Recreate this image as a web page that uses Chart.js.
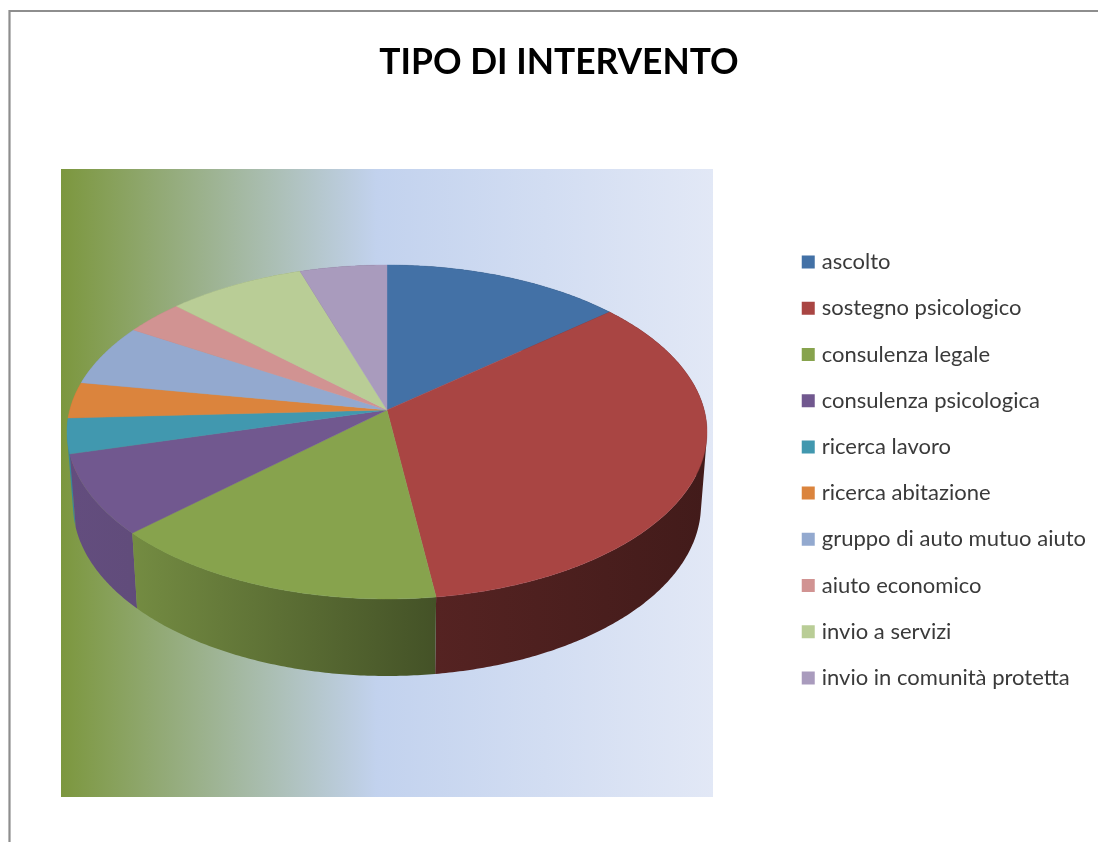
<!DOCTYPE html>
<html>
<head>
<meta charset="utf-8">
<style>html,body{margin:0;padding:0;background:#fff}canvas{display:block}</style>
<script src="https://cdn.jsdelivr.net/npm/chart.js@4/dist/chart.umd.min.js"></script>
</head>
<body>
<canvas id="c" width="1098" height="842"></canvas>
<script>
const categories = ["ascolto","sostegno psicologico","consulenza legale","consulenza psicologica","ricerca lavoro","ricerca abitazione","gruppo di auto mutuo aiuto","aiuto economico","invio a servizi","invio in comunità protetta"];
const values = [13.8,34.1,15.2,7.8,3.4,3.5,6.0,3.4,7.9,5.0];
const colors = ["#4371a6","#a94543","#87a34d","#71588f","#4198af","#db843d","#93a9cf","#d19392","#b9cd96","#a99bbd"];
const chartTitle = "TIPO DI INTERVENTO";

const TOP = {x:387, y:432, rx:320, ry:167};
const BOT = {x:387, y:505, rx:314, ry:171};
const TILT = -0.132;
const S = Math.sqrt(1 - TILT*TILT);
function proj(phi){
  const x = Math.sin(phi), y = -Math.cos(phi), d = 1 + TILT*y;
  return {u:x*S/d, v:(y+TILT)/d};
}
const onE = (e,p)=>[e.x+e.rx*p.u, e.y+e.ry*p.v];
function shade(hex,f){
  const n=parseInt(hex.slice(1),16);
  return `rgb(${Math.round((n>>16&255)*f)},${Math.round((n>>8&255)*f)},${Math.round((n&255)*f)})`;
}
const sample=(a,b)=>{const n=Math.max(2,Math.ceil((b-a)/0.01));const r=[];for(let i=0;i<=n;i++)r.push(proj(a+(b-a)*i/n));return r;};
function area(q){let s=0;q.forEach((p,i)=>{const n=q[(i+1)%q.length];s+=p[0]*n[1]-n[0]*p[1];});return s;}

const frame = {
  id:'frame',
  afterLayout(chart){
    chart.legend.top += 49; chart.legend.bottom += 49;
  },
  beforeDraw(chart){
    const c=chart.ctx;
    c.save();
    c.fillStyle='#fff';c.fillRect(0,0,chart.width,chart.height);
    c.strokeStyle='#8e8e8e';c.lineWidth=2.2;
    c.beginPath();c.moveTo(9.5,842);c.lineTo(9.5,11);c.lineTo(1098,11);c.stroke();
    const g=c.createLinearGradient(61,0,713,0);
    g.addColorStop(0,'#7c973e');g.addColorStop(0.485,'#c2d2ee');g.addColorStop(1,'#e2e8f6');
    c.fillStyle=g;c.fillRect(61,169,652,628);
    c.restore();
  },
  beforeDatasetsDraw(chart){
    const c=chart.ctx, arcs=chart.getDatasetMeta(0).data;
    const mid=e=>Math.abs((e.startAngle+e.endAngle)/2+Math.PI/2-Math.PI);
    c.save();
    const order=arcs.map((e,i)=>i).sort((p,q)=>mid(arcs[q])-mid(arcs[p]));
    for(const i of order){
      const pts=sample(arcs[i].startAngle+Math.PI/2,arcs[i].endAngle+Math.PI/2);
      const g=c.createLinearGradient(70,0,707,0);
      const col=colors[i];
      g.addColorStop(0,shade(col,0.88));g.addColorStop(0.096,shade(col,0.86));
      g.addColorStop(0.573,shade(col,0.50));g.addColorStop(1,shade(col,0.39));
      c.fillStyle=g;
      c.beginPath();
      for(let k=0;k<pts.length-1;k++){
        let q=[onE(TOP,pts[k]),onE(TOP,pts[k+1]),onE(BOT,pts[k+1]),onE(BOT,pts[k])];
        if(area(q)<0) q=q.reverse();
        c.moveTo(q[0][0],q[0][1]);q.slice(1).forEach(p=>c.lineTo(p[0],p[1]));c.closePath();
      }
      c.fill('nonzero');
    }
    const apex=[TOP.x,TOP.y+TOP.ry*TILT];
    arcs.forEach((e,i)=>{
      const pts=sample(e.startAngle+Math.PI/2,e.endAngle+Math.PI/2);
      c.fillStyle=colors[i];c.strokeStyle=colors[i];c.lineWidth=0.4;
      c.beginPath();c.moveTo(apex[0],apex[1]);
      pts.forEach(p=>{const q=onE(TOP,p);c.lineTo(q[0],q[1]);});
      c.closePath();c.fill();c.stroke();
    });
    c.restore();
    return false;
  }
};

new Chart(document.getElementById('c'),{
  type:'pie',
  data:{labels:categories,datasets:[{data:values,backgroundColor:colors,borderWidth:0}]},
  plugins:[frame],
  options:{
    responsive:false,animation:false,
    layout:{padding:{left:22,right:2,top:0,bottom:0}},
    plugins:{
      tooltip:{enabled:false},
      title:{display:true,text:chartTitle,color:'#000',font:{family:'Lato',size:35.4,weight:'bold'},padding:{top:41,bottom:20}},
      legend:{position:'right',align:'center',labels:{
        boxWidth:5,boxHeight:5,padding:24.2,color:'#3a3a3a',font:{family:'Lato',size:22},
        generateLabels(chart){
          return Chart.overrides.pie.plugins.legend.labels.generateLabels(chart)
            .map(l=>Object.assign(l,{lineWidth:8,strokeStyle:l.fillStyle}));
        }
      }}
    }
  }
});
</script>
</body>
</html>
